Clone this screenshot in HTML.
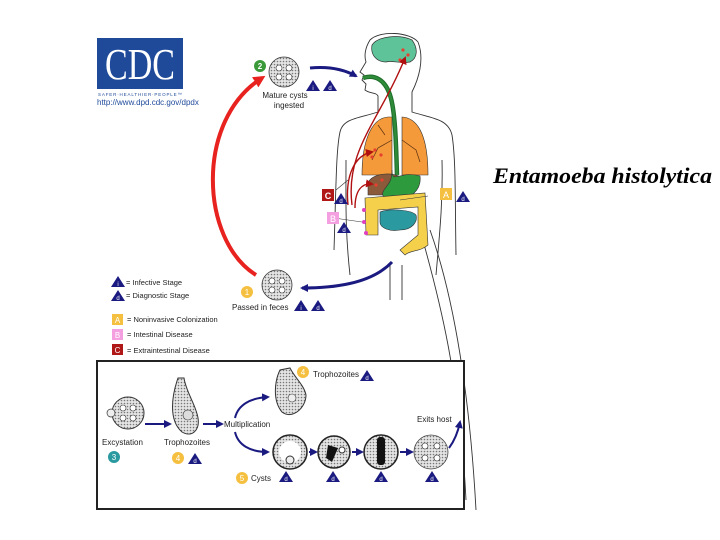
<!DOCTYPE html>
<html><head><meta charset="utf-8"><style>
html,body{margin:0;padding:0;background:#fff;}
svg{display:block;}
text{font-family:"Liberation Sans",sans-serif;}
</style></head><body>
<svg width="720" height="540" viewBox="0 0 720 540" xmlns="http://www.w3.org/2000/svg">
<defs>
<marker id="ab" markerWidth="8" markerHeight="8" refX="6" refY="4" orient="auto" markerUnits="userSpaceOnUse"><path d="M0,0 L8,4 L0,8 Z" fill="#1a1a80"/></marker>
<marker id="ar" markerWidth="12" markerHeight="12" refX="8" refY="6" orient="auto" markerUnits="userSpaceOnUse"><path d="M0,0 L12,6 L0,12 Z" fill="#e8231f"/></marker>
<marker id="adr" markerWidth="8" markerHeight="8" refX="6" refY="4" orient="auto" markerUnits="userSpaceOnUse"><path d="M0,0 L8,4 L0,8 Z" fill="#b01010"/></marker>
<pattern id="dots" width="3" height="3" patternUnits="userSpaceOnUse"><rect width="3" height="3" fill="#e4e4e4"/><circle cx="1.5" cy="1.5" r="0.8" fill="#777"/></pattern>
<g id="tri"><path d="M-7,5 L0,-6 L7,5 Z" fill="#1a1a80"/></g>
</defs>

<rect x="97" y="38" width="86" height="51" fill="#1f4a9a"/>
<text x="140" y="79" font-size="44" fill="#fff" text-anchor="middle" style="font-family:'Liberation Serif',serif" textLength="70" lengthAdjust="spacingAndGlyphs">CDC</text>
<text x="98" y="96" font-size="4.5" fill="#1f4a9a" textLength="84">SAFER·HEALTHIER·PEOPLE™</text>
<text x="97" y="105" font-size="8" fill="#1f4a9a">http://www.dpd.cdc.gov/dpdx</text>

<g fill="none" stroke="#333" stroke-width="0.9">
<path d="M418,42 C410,32 380,30 370,40 C365,48 364,56 366,62 L360,72 L364,75 L362,80 L366,84 L365,90 C370,94 376,92 378,96 L378,112 C360,118 343,118 340,132 C336,150 336,190 334,250"/>
<path d="M418,42 C425,60 418,80 412,92 L412,112 C430,118 448,118 452,135 C456,160 455,200 456,255"/>
<path d="M346,160 C346,200 345,230 350,275"/>
<path d="M442,160 C443,200 440,230 436,275"/>
<path d="M390,265 L390,300"/><path d="M402,265 L402,300"/>
<path d="M420,230 C440,300 460,380 466,500"/>
<path d="M430,230 C455,300 470,400 476,510"/>
</g>

<path d="M372,45 C378,36 400,34 412,40 C418,48 418,58 410,62 C400,64 392,60 386,62 C378,62 370,56 372,45 Z" fill="#5fc39a" stroke="#333" stroke-width="0.7"/>
<g fill="#e84030"><circle cx="403" cy="50" r="1.6"/><circle cx="408" cy="55" r="1.6"/><circle cx="400" cy="60" r="1.6"/></g>
<path d="M388,117 C372,118 362,140 362,175 L392,175 L392,117 Z" fill="#f59a3a" stroke="#333" stroke-width="0.6"/>
<path d="M402,117 C420,118 428,140 428,175 L402,175 Z" fill="#f59a3a" stroke="#333" stroke-width="0.6"/>
<g fill="none" stroke="#5a3010" stroke-width="0.7"><path d="M392,140 L378,148 L372,160"/><path d="M402,140 L416,150 L420,162"/><path d="M385,135 L378,125"/></g>
<path d="M363,78 C375,74 385,80 390,95 C395,110 396,140 397,175" fill="none" stroke="#1f6e2a" stroke-width="4.5"/>
<path d="M363,78 C375,74 385,80 390,95 C395,110 396,140 397,175" fill="none" stroke="#2e8b3a" stroke-width="2.5"/>
<path d="M368,183 C372,172 395,172 402,178 L400,195 L368,195 Z" fill="#8b5a3a" stroke="#333" stroke-width="0.6"/>
<path d="M392,170 C392,185 400,170 420,176 C422,190 410,200 395,200 C385,200 380,196 384,190 C388,184 392,182 392,170 Z" fill="#2e9a3e" stroke="#333" stroke-width="0.6"/>
<path d="M365,198 L425,193 L428,245 C420,252 410,250 405,255 L400,250 L418,235 L418,207 L378,210 L378,235 L366,235 Z" fill="#f5d04a" stroke="#333" stroke-width="0.6"/>
<path d="M380,212 C390,208 412,210 416,215 C418,222 412,230 400,230 C390,232 380,228 380,222 Z" fill="#2a9aa0" stroke="#333" stroke-width="0.6"/>
<g fill="#e84030"><circle cx="375" cy="150" r="1.6"/><circle cx="381" cy="155" r="1.6"/><circle cx="372" cy="157" r="1.6"/><circle cx="376" cy="185" r="1.6"/><circle cx="382" cy="180" r="1.6"/></g>
<g fill="#e040c0"><circle cx="364" cy="210" r="2"/><circle cx="364" cy="222" r="2"/><circle cx="366" cy="233" r="2"/></g>
<g fill="none" stroke="#b01010" stroke-width="1.4">
<path d="M352,205 C345,150 380,120 405,58" marker-end="url(#adr)"/>
<path d="M348,205 C345,175 355,155 372,152" marker-end="url(#adr)"/>
<path d="M355,208 C355,190 362,183 372,184" marker-end="url(#adr)"/>
</g>
<line x1="428" y1="196" x2="400" y2="200" stroke="#333" stroke-width="0.6"/>
<line x1="334" y1="218" x2="362" y2="222" stroke="#333" stroke-width="0.6"/>
<line x1="336" y1="190" x2="348" y2="180" stroke="#333" stroke-width="0.6"/>

<rect x="322" y="189" width="12" height="12" fill="#b01818"/><text x="328" y="199" font-size="9" font-weight="bold" fill="#fff" text-anchor="middle">C</text>
<use href="#tri" x="341" y="199"/><text x="341" y="203" font-size="6" fill="#fff" text-anchor="middle">d</text>
<rect x="327" y="212" width="12" height="12" fill="#f4a0e0"/><text x="333" y="222" font-size="9" fill="#fff" text-anchor="middle">B</text>
<use href="#tri" x="344" y="228"/><text x="344" y="232" font-size="6" fill="#fff" text-anchor="middle">d</text>
<rect x="440" y="188" width="12" height="12" fill="#f5c040"/><text x="446" y="198" font-size="9" fill="#fff" text-anchor="middle">A</text>
<use href="#tri" x="463" y="197"/><text x="463" y="201" font-size="6" fill="#fff" text-anchor="middle">d</text>

<path d="M256,275 C200,240 195,120 262,78" fill="none" stroke="#e8231f" stroke-width="4" marker-end="url(#ar)"/>
<path d="M310,68 C330,66 345,70 356,76" fill="none" stroke="#1a1a80" stroke-width="3" marker-end="url(#ab)"/>
<path d="M392,262 C370,285 330,288 302,288" fill="none" stroke="#1a1a80" stroke-width="3" marker-end="url(#ab)"/>

<circle cx="284" cy="72" r="15" fill="url(#dots)" stroke="#333" stroke-width="0.8"/>
<g fill="#fff" stroke="#333" stroke-width="0.6"><circle cx="279" cy="68" r="3"/><circle cx="289" cy="68" r="3"/><circle cx="279" cy="77" r="3"/><circle cx="289" cy="77" r="3"/></g>
<circle cx="260" cy="66" r="6" fill="#3a9a3a"/><text x="260" y="69" font-size="8" font-weight="bold" fill="#fff" text-anchor="middle">2</text>
<use href="#tri" x="313" y="86"/><text x="313" y="90" font-size="6" fill="#fff" text-anchor="middle">i</text>
<use href="#tri" x="330" y="86"/><text x="330" y="90" font-size="6" fill="#fff" text-anchor="middle">d</text>
<text x="285" y="98" font-size="8" text-anchor="middle" fill="#222">Mature cysts</text>
<text x="289" y="108" font-size="8" text-anchor="middle" fill="#222">ingested</text>

<circle cx="277" cy="285" r="15" fill="url(#dots)" stroke="#333" stroke-width="0.8"/>
<g fill="#fff" stroke="#333" stroke-width="0.6"><circle cx="272" cy="281" r="3"/><circle cx="282" cy="281" r="3"/><circle cx="272" cy="290" r="3"/><circle cx="282" cy="290" r="3"/></g>
<circle cx="247" cy="292" r="6" fill="#f5c040"/><text x="247" y="295" font-size="8" fill="#fff" text-anchor="middle">1</text>
<text x="232" y="310" font-size="8" fill="#222">Passed in feces</text>
<use href="#tri" x="301" y="306"/><text x="301" y="310" font-size="6" fill="#fff" text-anchor="middle">i</text>
<use href="#tri" x="318" y="306"/><text x="318" y="310" font-size="6" fill="#fff" text-anchor="middle">d</text>

<use href="#tri" x="118" y="282"/><text x="118" y="286" font-size="6" fill="#fff" text-anchor="middle">i</text>
<text x="126" y="285" font-size="7.5" fill="#222">= Infective Stage</text>
<use href="#tri" x="118" y="296"/><text x="118" y="300" font-size="6" fill="#fff" text-anchor="middle">d</text>
<text x="126" y="298" font-size="7.5" fill="#222">= Diagnostic Stage</text>
<rect x="112" y="314" width="11" height="11" fill="#f5c040"/><text x="117.5" y="323" font-size="8" fill="#fff" text-anchor="middle">A</text>
<text x="127" y="322" font-size="7.5" fill="#222">= Noninvasive Colonization</text>
<rect x="112" y="329" width="11" height="11" fill="#f4a0e0"/><text x="117.5" y="338" font-size="8" fill="#fff" text-anchor="middle">B</text>
<text x="127" y="337" font-size="7.5" fill="#222">= Intestinal Disease</text>
<rect x="112" y="344" width="11" height="11" fill="#b01818"/><text x="117.5" y="353" font-size="8" fill="#fff" text-anchor="middle">C</text>
<text x="127" y="353" font-size="7.5" fill="#222">= Extraintestinal Disease</text>

<text x="493" y="183" font-size="22" font-weight="bold" font-style="italic" style="font-family:'Liberation Serif',serif" textLength="219" lengthAdjust="spacingAndGlyphs">Entamoeba histolytica</text>

<rect x="97" y="361" width="367" height="148" fill="#fff" stroke="#222" stroke-width="2"/>
<circle cx="128" cy="413" r="16" fill="url(#dots)" stroke="#333" stroke-width="1"/>
<circle cx="111" cy="413" r="4" fill="#eee" stroke="#333" stroke-width="0.7"/>
<g fill="#fff" stroke="#333" stroke-width="0.6"><circle cx="123" cy="408" r="3"/><circle cx="133" cy="408" r="3"/><circle cx="123" cy="418" r="3"/><circle cx="133" cy="418" r="3"/></g>
<text x="102" y="445" font-size="8" fill="#222">Excystation</text>
<circle cx="114" cy="457" r="6" fill="#2a9aa0"/><text x="114" y="460" font-size="8" fill="#fff" text-anchor="middle">3</text>
<line x1="145" y1="424" x2="170" y2="424" stroke="#1a1a80" stroke-width="2" marker-end="url(#ab)"/>
<path d="M178,378 C172,395 168,420 182,432 C192,438 200,430 198,418 C196,405 186,392 184,378 Z" fill="url(#dots)" stroke="#333" stroke-width="1"/>
<circle cx="188" cy="415" r="5" fill="#ddd" stroke="#333" stroke-width="0.6"/>
<text x="164" y="445" font-size="8" fill="#222">Trophozoites</text>
<circle cx="178" cy="458" r="6" fill="#f5c040"/><text x="178" y="461" font-size="8" fill="#fff" text-anchor="middle">4</text>
<use href="#tri" x="195" y="459"/><text x="195" y="463" font-size="6" fill="#fff" text-anchor="middle">d</text>
<line x1="203" y1="424" x2="222" y2="424" stroke="#1a1a80" stroke-width="2" marker-end="url(#ab)"/>
<text x="224" y="427" font-size="8" fill="#222">Multiplication</text>
<path d="M235,418 C238,405 250,398 268,397" fill="none" stroke="#1a1a80" stroke-width="2" marker-end="url(#ab)"/>
<path d="M235,432 C238,445 250,452 268,452" fill="none" stroke="#1a1a80" stroke-width="2" marker-end="url(#ab)"/>
<path d="M280,370 C275,380 272,400 282,412 C292,420 306,408 306,395 C304,385 295,378 290,368 Z" fill="url(#dots)" stroke="#333" stroke-width="1"/>
<circle cx="292" cy="398" r="4" fill="#eee" stroke="#333" stroke-width="0.6"/>
<circle cx="303" cy="372" r="6" fill="#f5c040"/><text x="303" y="375" font-size="8" fill="#fff" text-anchor="middle">4</text>
<text x="313" y="377" font-size="8" fill="#222">Trophozoites</text>
<use href="#tri" x="367" y="376"/><text x="367" y="380" font-size="6" fill="#fff" text-anchor="middle">d</text>
<g stroke="#222" stroke-width="1.5" fill="url(#dots)">
<circle cx="290" cy="452" r="17"/><circle cx="334" cy="452" r="16"/><circle cx="381" cy="452" r="17"/></g>
<circle cx="431" cy="452" r="17" fill="url(#dots)" stroke="#444" stroke-width="0.8"/>
<circle cx="290" cy="452" r="11" fill="#fff"/><circle cx="290" cy="460" r="4" fill="#eee" stroke="#333"/>
<path d="M328,445 L338,448 L332,462 L326,458 Z" fill="#111"/><circle cx="342" cy="450" r="3" fill="#fff" stroke="#333"/>
<rect x="377" y="437" width="8" height="28" rx="3" fill="#111"/>
<g fill="#fff" stroke="#333" stroke-width="0.6"><circle cx="425" cy="446" r="3"/><circle cx="437" cy="446" r="3"/><circle cx="425" cy="458" r="3"/><circle cx="437" cy="458" r="3"/></g>
<line x1="309" y1="452" x2="316" y2="452" stroke="#1a1a80" stroke-width="2" marker-end="url(#ab)"/>
<line x1="352" y1="452" x2="362" y2="452" stroke="#1a1a80" stroke-width="2" marker-end="url(#ab)"/>
<line x1="400" y1="452" x2="412" y2="452" stroke="#1a1a80" stroke-width="2" marker-end="url(#ab)"/>
<path d="M449,448 C455,440 458,432 460,422" fill="none" stroke="#1a1a80" stroke-width="2" marker-end="url(#ab)"/>
<text x="417" y="422" font-size="8" fill="#222">Exits host</text>
<circle cx="242" cy="478" r="6" fill="#f5c040"/><text x="242" y="481" font-size="8" fill="#fff" text-anchor="middle">5</text>
<text x="251" y="481" font-size="8" fill="#222">Cysts</text>
<use href="#tri" x="286" y="477"/><text x="286" y="481" font-size="6" fill="#fff" text-anchor="middle">d</text>
<use href="#tri" x="333" y="477"/><text x="333" y="481" font-size="6" fill="#fff" text-anchor="middle">d</text>
<use href="#tri" x="381" y="477"/><text x="381" y="481" font-size="6" fill="#fff" text-anchor="middle">d</text>
<use href="#tri" x="432" y="477"/><text x="432" y="481" font-size="6" fill="#fff" text-anchor="middle">d</text>
</svg>
</body></html>
